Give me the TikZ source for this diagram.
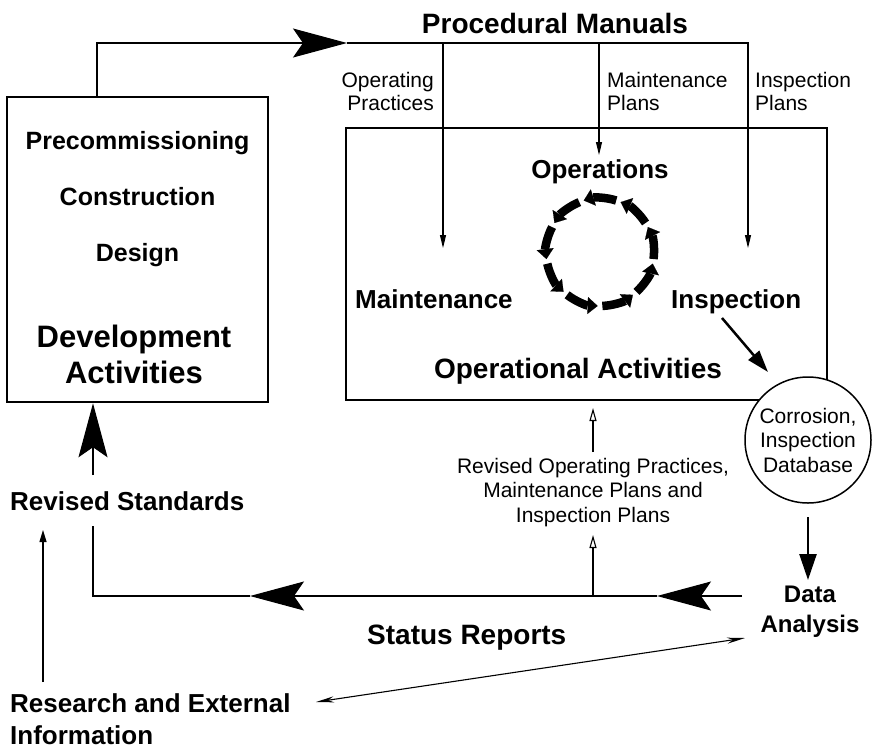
\documentclass[tikz,border=0pt]{standalone}
\usepackage{fontspec}
\setmainfont{Liberation Sans}
\usetikzlibrary{arrows.meta}
\tikzset{
  boxstyle/.style={draw, line width=2.5pt, inner sep=0pt},
  lbl/.style={font=\fontsize{21}{23.5}\selectfont, inner sep=0pt},
  blbl/.style={font=\bfseries\fontsize{25}{30}\selectfont, inner sep=0pt},
  conn/.style={line width=1.1pt},
  bigtip/.style={-{Stealth[length=54pt,width=29pt,inset=10pt]}},
  smalltip/.style={-{Triangle[length=13pt,width=6pt]}},
  opentip/.style={-{Triangle[open,length=13pt,width=7pt]}},
  thickarr/.style={line width=2.5pt},
  cyclearr/.style={line width=8.5pt, -{Triangle[length=10pt,width=17pt,line width=0.1pt]}}
}
\begin{document}
\begin{tikzpicture}[x=1pt,y=-1pt]
\fill[white] (0,0) rectangle (878,748);
\useasboundingbox (0,0) rectangle (878,748);

% boxes
\node[boxstyle, minimum width=261pt, minimum height=305pt] (dev) at (137.5,249.5) {};
\node[boxstyle, minimum width=481pt, minimum height=272pt] (ops) at (586.5,264) {};

% title
\node[blbl, font=\bfseries\fontsize{28}{32}\selectfont, anchor=base] (title) at (555,33) {Procedural Manuals};

% development box texts
\node[blbl, anchor=base] (pre) at (137.5,149) {Precommissioning};
\node[blbl, anchor=base] (con) at (137.5,205) {Construction};
\node[blbl, anchor=base] (des) at (137.5,261) {Design};
\node[blbl, font=\bfseries\fontsize{31}{36}\selectfont, align=center, anchor=north] (devtxt) at (134,324.4) {Development\\Activities};

% operations box texts
\node[blbl, font=\bfseries\fontsize{26}{30}\selectfont, anchor=base] (opn) at (600,178) {Operations};
\node[blbl, font=\bfseries\fontsize{26}{30}\selectfont, anchor=base west] (mnt) at (355,308) {Maintenance};
\node[blbl, font=\bfseries\fontsize{26}{30}\selectfont, anchor=base west] (insp) at (671,308) {Inspection};
\node[blbl, font=\bfseries\fontsize{28}{32}\selectfont, anchor=base] (optxt) at (578,378) {Operational Activities};

% manual labels
\node[lbl, align=right, anchor=north east] (oplbl) at (434,71.7) {Operating\\Practices};
\node[lbl, align=left, anchor=north west] (mplbl) at (607,71.7) {Maintenance\\Plans};
\node[lbl, align=left, anchor=north west] (iplbl) at (755,71.7) {Inspection\\Plans};

% database circle
\node[circle, draw, line width=1.5pt, fill=white, minimum size=126pt, inner sep=1pt, align=center,
      font=\fontsize{21}{24.5}\selectfont] (db) at (808,440) {Corrosion,\\Inspection\\Database};

% data analysis
\node[blbl, font=\bfseries\fontsize{24}{30}\selectfont, align=center, anchor=north] (data) at (810,585.5) {Data\\Analysis};

% revised plans text
\node[lbl, font=\fontsize{21}{24.5}\selectfont, align=center, anchor=north] (revtxt) at (593,457.7)
  {Revised Operating Practices,\\Maintenance Plans and\\Inspection Plans};

% left labels
\node[blbl, font=\bfseries\fontsize{26}{32}\selectfont, anchor=base west] (revstd) at (10,510) {Revised Standards};
\node[blbl, font=\bfseries\fontsize{28}{32}\selectfont, anchor=base west] (status) at (367,644) {Status Reports};
\node[blbl, font=\bfseries\fontsize{26}{32}\selectfont, align=left, anchor=north west] (research) at (10,693) {Research and External\\Information};

% coordinates
\coordinate (c1) at (97,43);
\coordinate (tipA) at (347,43);
\coordinate (c2) at (748,43);
\coordinate (oa) at (443,43);
\coordinate (oe) at (443,248);
\coordinate (ma) at (599,43);
\coordinate (me) at (599,155);
\coordinate (ie) at (748,248);

\coordinate (b2) at (742,596);
\coordinate (t2) at (657,596);
\coordinate (t1) at (250,596);
\coordinate (b1) at (93,596);
\coordinate (b0) at (93,526);
\coordinate (r0) at (93,475);

\coordinate (w0) at (593,596);
\coordinate (w0e) at (593,535);
\coordinate (w1) at (593,452);
\coordinate (w1e) at (593,408);

\coordinate (rs0) at (43,682);
\coordinate (rs1) at (43,530);
\coordinate (da0) at (316,702);
\coordinate (da1) at (745,638);

\coordinate (ia0) at (722,318);
\coordinate (ia1) at (768,372);
\coordinate (db0) at (808,517);
\coordinate (db1) at (808,580);

\coordinate (cyc) at (600,252);

% top connector
\draw[conn, bigtip] (c1 |- dev.north) -- (c1) -- (tipA);
\draw[conn, smalltip] (tipA) -- (c2) -- (ie);
\draw[conn, smalltip] (oa) -- (oe);
\draw[conn, smalltip] (ma) -- (me);

% bottom connector
\draw[conn, bigtip] (b2) -- (t2);
\draw[conn, bigtip] (t2) -- (t1);
\draw[conn] (t1) -- (b1) -- (b0);
\draw[conn, bigtip] (r0) -- (r0 |- dev.south);

% revised plans arrows
\draw[conn, opentip] (w0) -- (w0e);
\draw[conn, opentip] (w1) -- (w1e);

% research arrows
\draw[conn, -{Triangle[length=12pt,width=7pt]}] (rs0) -- (rs1);
\draw[conn, {Stealth[length=18pt,width=6pt]}-{Stealth[length=18pt,width=6pt]}] (da0) -- (da1);

% thick arrows
\draw[thickarr, -{Triangle[length=22pt,width=14pt]}] (ia0) -- (ia1);
\draw[thickarr, -{Triangle[length=26pt,width=17pt]}] (db0) -- (db1);

% cycle of arrows
\foreach \a [evaluate=\a as \s using \a+17.5, evaluate=\a as \e using \a-17.5] in {270,230,190,150,110,70,30,350,310}
  \draw[cyclearr] (cyc) ++(\s:54) arc[start angle=\s, end angle=\e, radius=54];

\end{tikzpicture}
\end{document}
